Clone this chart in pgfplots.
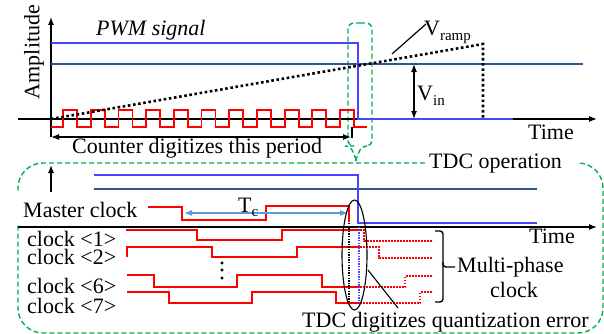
\documentclass[border=0pt]{standalone}
\usepackage{fontspec}
\setmainfont{Liberation Serif}
\usepackage{pgfplots}
\pgfplotsset{compat=1.18}
\usetikzlibrary{arrows.meta}
\definecolor{pwm}{RGB}{70,70,255}
\definecolor{vin}{RGB}{47,85,151}
\definecolor{grn}{RGB}{0,176,80}
\definecolor{tca}{RGB}{91,155,213}
\begin{document}
\begin{tikzpicture}[font=\fontsize{22bp}{26bp}\selectfont]
\begin{axis}[scale only axis, width=604bp, height=334bp,
  xmin=0, xmax=604, ymin=0, ymax=334, y dir=reverse,
  hide axis, clip=false]
\addplot[draw=none] coordinates {(0,0)(604,334)};
% ---------- green frames ----------
\addplot[grn, line width=1.4bp, dash pattern=on 5bp off 3bp, rounded corners=25bp]
  coordinates {(300,163)(603,163)(603,333)(18,333)(18,163)(300,163)};
\addplot[grn, line width=1.4bp, dash pattern=on 5bp off 3bp, rounded corners=6bp]
  coordinates {(360,23)(372,23)(372,146)(361,146)(356,161)(351,146)(348,146)(348,23)(360,23)};
\addplot[grn, line width=1.4bp, dash pattern=on 3bp off 2bp] coordinates {(356,158)(356,163)};
% white label boxes
\fill[white] (425,146) rectangle (578,179);
\fill[white] (14,192) rectangle (148,225);
\node[anchor=base west, inner sep=0] at (429,168) {TDC operation};
% ---------- top panel ----------
\addplot[black, line width=1.3bp, -{Latex[length=8bp,width=6bp]}] coordinates {(51,137)(51,17)};
\addplot[black, line width=1.3bp, -{Latex[length=8bp,width=6bp]}] coordinates {(18,119)(597,119)};
\addplot[vin, line width=1.4bp] coordinates {(51,64)(583,64)};
\addplot[pwm, line width=1.8bp] coordinates {(51,43)(358,43)(358,119)(513,119)};
\addplot[red, line width=1.8bp] coordinates {
(51,127)(63,127)(63,110)(77,110)(77,127)(90.7,127)(90.7,110)(104.7,110)(104.7,127)
(118.4,127)(118.4,110)(132.4,110)(132.4,127)(146.1,127)(146.1,110)(160.1,110)(160.1,127)
(173.8,127)(173.8,110)(187.8,110)(187.8,127)(201.5,127)(201.5,110)(215.5,110)(215.5,127)
(229.2,127)(229.2,110)(243.2,110)(243.2,127)(256.9,127)(256.9,110)(270.9,110)(270.9,127)
(284.6,127)(284.6,110)(298.6,110)(298.6,127)(312.3,127)(312.3,110)(326.3,110)(326.3,127)
(340,127)(340,110)(354,110)(354,127)(367,127)};
\addplot[black, line width=2.6bp, dash pattern=on 2.6bp off 2.6bp] coordinates {(51,119)(483,44)(483,119)};
\addplot[black, line width=1.3bp, {Latex[length=8bp,width=6bp]}-{Latex[length=8bp,width=6bp]}] coordinates {(414,64)(414,119)};
\addplot[black, line width=1.2bp] coordinates {(392,54)(426,24)};
\addplot[black, line width=1.3bp, {Latex[length=8bp,width=6bp]}-{Latex[length=8bp,width=6bp]}] coordinates {(51,137)(351,137)};
\addplot[black, line width=1.3bp] coordinates {(352,127)(352,138)};
\node[anchor=center, rotate=90, inner sep=0] at (34,52) {Amplitude};
\node[anchor=base west, inner sep=0] at (96,35) {\itshape PWM signal};
\node[anchor=base west, inner sep=0] at (424,35) {V\raisebox{-5bp}{\fontsize{15bp}{15bp}\selectfont ramp}};
\node[anchor=base west, inner sep=0] at (417,100) {V\raisebox{-5bp}{\fontsize{15bp}{15bp}\selectfont in}};
\node[anchor=base west, inner sep=0] at (528,139) {Time};
\node[anchor=base west, inner sep=0] at (72,153) {Counter digitizes this period};
% ---------- bottom panel ----------
\addplot[black, line width=1.3bp, -{Latex[length=8bp,width=6bp]}] coordinates {(51,192)(51,165)};
\addplot[black, line width=1.3bp, -{Latex[length=8bp,width=6bp]}] coordinates {(18,227)(597,227)};
\addplot[vin, line width=1.4bp] coordinates {(94,189)(537,189)};
\addplot[pwm, line width=1.8bp] coordinates {(94,175)(358,175)(358,223)(537,223)};
\addplot[red, line width=1.8bp] coordinates {(148,207)(182,207)(182,220)(266,220)(266,206)(349,206)(349,222)};
\addplot[tca, line width=1.2bp, {Latex[length=8bp,width=6bp]}-{Latex[length=8bp,width=6bp]}] coordinates {(184,213)(348,213)};
\addplot[red, line width=1.8bp] coordinates {(126,230)(197,230)(197,240)(282,240)(282,230)(360,230)};
\addplot[red, line width=1.5bp, dash pattern=on 1.5bp off 1.5bp] coordinates {(360,230)(364,230)(364,241)(433,241)};
\addplot[red, line width=1.8bp] coordinates {(127,257)(127,247)(212,247)(212,257)(297,257)(297,247)(360,247)};
\addplot[red, line width=1.5bp, dash pattern=on 1.5bp off 1.5bp] coordinates {(360,247)(379,247)(379,258)(433,258)};
\addplot[red, line width=1.8bp] coordinates {(127,275)(154,275)(154,287)(237,287)(237,275)(322,275)(322,287)(360,287)};
\addplot[red, line width=1.5bp, dash pattern=on 1.5bp off 1.5bp] coordinates {(360,287)(405,287)(405,276)(433,276)};
\addplot[red, line width=1.8bp] coordinates {(127,292)(169,292)(169,303)(252,303)(252,292)(336,292)(336,303)(360,303)};
\addplot[red, line width=1.5bp, dash pattern=on 1.5bp off 1.5bp] coordinates {(360,303)(420,303)(420,292)(433,292)};
\addplot[only marks, mark=*, mark size=1.3bp, black] coordinates {(222,263)(222,270)(222,278)};
\addplot[black, line width=1.3bp, dash pattern=on 1.3bp off 1.3bp] coordinates {(349,223)(349,303)};
\addplot[pwm, line width=1.3bp, dash pattern=on 1.3bp off 1.3bp] coordinates {(359,227)(359,303)};
\draw[black, line width=1.1bp] (354.5,255) ellipse [x radius=12.5bp, y radius=55bp];
\addplot[black, line width=1.1bp] coordinates {(368,270)(398,308)};
\addplot[black, line width=1.4bp, rounded corners=3bp] coordinates {(435,231)(443,231)(443,267)(455,267)};
\addplot[black, line width=1.4bp, rounded corners=3bp] coordinates {(443,262)(443,302)(435,302)};
\node[anchor=base west, inner sep=0] at (23,217) {Master clock};
\node[anchor=base west, inner sep=0] at (238,212) {T\raisebox{-4bp}{\fontsize{15bp}{15bp}\selectfont c}};
\node[anchor=base west, inner sep=0] at (27,246) {clock <1>};
\node[anchor=base west, inner sep=0] at (27,264) {clock <2>};
\node[anchor=base west, inner sep=0] at (27,293) {clock <6>};
\node[anchor=base west, inner sep=0] at (27,313) {clock <7>};
\node[anchor=base west, inner sep=0] at (529,243) {Time};
\node[anchor=base west, inner sep=0] at (457,272) {Multi-phase};
\node[anchor=base west, inner sep=0] at (490,297) {clock};
\node[anchor=base west, inner sep=0] at (302,327) {TDC digitizes quantization error};
\end{axis}
\end{tikzpicture}
\end{document}
